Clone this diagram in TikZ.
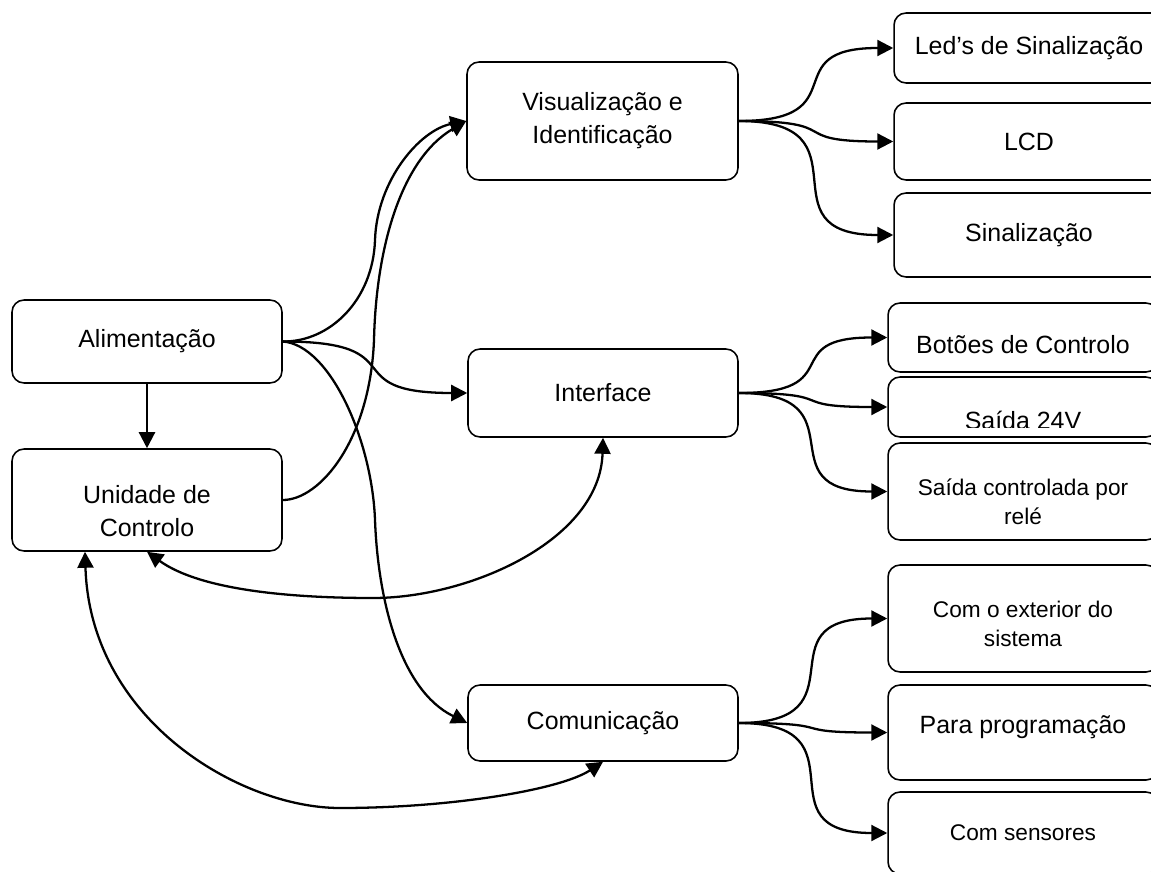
\documentclass[tikz,border=0pt]{standalone}
\usepackage{fontspec}
\setmainfont{Liberation Sans}
\usetikzlibrary{arrows.meta,calc}
\newcommand{\txtmain}{\fontsize{14.2}{18.8}\selectfont}
\newcommand{\txtsmall}{\fontsize{12.9}{16.5}\selectfont}
\tikzset{>={Triangle[length=0.32cm,width=0.32cm]}}
\tikzset{
  blk/.style={draw, line width=0.9pt, rounded corners=0.24cm, minimum width=5.4cm,
    align=center, inner sep=0pt, font=\txtmain},
  blksmall/.style={blk, font=\txtsmall},
  lnk/.style={line width=1.3pt, ->},
  dlnk/.style={line width=1.3pt, <->},
}

\begin{document}
\begin{tikzpicture}[x=0.02cm, y=-0.02cm]
	\useasboundingbox (0,0) rectangle (1151,871);
	\clip (0,0) rectangle (1151,871);
	% left column
	\node[blk, minimum height=1.66cm] (ali) at (147,341.5) {Alimentação};
	\node[blk, minimum height=2.04cm,
		label={[yshift=-0.22cm, align=center, font=\txtmain]center:Unidade de\\Controlo}] (uc) at (147,500) {};
	% middle column
	\node[blk, minimum width=5.42cm, minimum height=2.36cm] (vis) at (602.5,121) {Visualização e\\Identificação};
	\node[blk, minimum height=1.76cm] (itf) at (603,393) {Interface};
	\node[blk, minimum height=1.52cm] (com) at (603,723) {Comunicação};
	% right column
	\node[blk, minimum height=1.4cm] (led) at (1029,48) {Led’s de Sinalização};
	\node[blk, minimum height=1.54cm] (lcd) at (1029,141.5) {LCD};
	\node[blk, minimum height=1.68cm] (sin) at (1029,235) {Sinalização};
	\node[blk, minimum height=1.38cm,
		label={[yshift=-0.14cm, font=\txtmain]center:Botões de Controlo}] (bot) at (1023,337.5) {};
	\node[blk, minimum height=1.2cm] (s24) at (1023,407) {};
	\begin{scope}
		\clip (888,377) rectangle (1160,427);
		\node[font=\txtmain, anchor=base, inner sep=0pt] (s24t) at (1023,429) {Saída 24V};
	\end{scope}
	\node[blksmall, minimum height=1.94cm,
		label={[yshift=-0.2cm, align=center, font=\txtsmall]center:Saída controlada por\\relé}] (rel) at (1023,491.5) {};
	\node[blksmall, minimum height=2.14cm,
		label={[yshift=-0.1cm, align=center, font=\txtsmall]center:Com o exterior do\\sistema}] (ext) at (1023,618.5) {};
	\node[blk, minimum height=1.9cm,
		label={[yshift=0.1cm, font=\txtmain]center:Para programação}] (prg) at (1023,732.5) {};
	\node[blksmall, minimum height=1.64cm] (sen) at (1023,833) {Com sensores};

	\draw[lnk] (ali) -- (uc);
	\draw[lnk] (ali.east) .. controls (330,342) and (373,300) .. (375,240)
		.. controls (377,180) and (420,130) .. (vis.west);
	\draw[lnk] (uc.east) .. controls (320,500) and (370,440) .. (374,340)
		.. controls (376,250) and (400,160) .. (vis.west);
	\draw[lnk] (ali.east) to[out=0, in=180, looseness=1.8] (itf.west);
	\draw[lnk] (ali.east) .. controls (330,345) and (372,440) .. (375,520)
		.. controls (378,600) and (400,690) .. (com.west);
	\draw[dlnk] (uc.south) .. controls (200,590) and (290,598) .. (373,598)
		.. controls (470,598) and (600,540) .. (itf.south);
	\draw[dlnk] ($(uc.south)+(-62,0)$) .. controls (90,720) and (240,808) .. (340,808)
		.. controls (450,808) and (560,790) .. (com.south);

	\foreach \t in {led,lcd,sin}
		\draw[lnk] (vis.east) to[out=0, in=180, looseness=1.8] (\t.west);
	\foreach \t in {bot,s24,rel}
		\draw[lnk] (itf.east) to[out=0, in=180, looseness=1.8] (\t.west);
	\foreach \t in {ext,prg,sen}
		\draw[lnk] (com.east) to[out=0, in=180, looseness=1.8] (\t.west);
\end{tikzpicture}
\end{document}
